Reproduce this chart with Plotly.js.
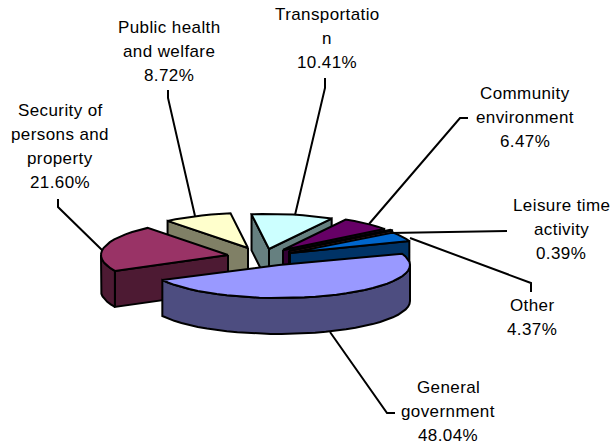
<!DOCTYPE html>
<html><head><meta charset="utf-8">
<script src="https://cdn.plot.ly/plotly-3.0.1.min.js"></script>
<style>html,body{margin:0;padding:0;background:#fff}
.annotation-text{letter-spacing:.4px}</style></head>
<body><div id="chart" style="width:611px;height:445px"></div>
<script>
// data (slices run clockwise starting at General government)
var categories = ["General government","Security of persons and property","Public health and welfare","Transportation","Community environment","Leisure time activity","Other"];
var shares = [48.04,21.60,8.72,10.41,6.47,0.39,4.37];
var shareLabels = ["48.04%","21.60%","8.72%","10.41%","6.47%","0.39%","4.37%"];
var labelLines = [["General","government"],["Security of","persons and","property"],["Public health","and welfare"],["Transportatio","n"],["Community","environment"],["Leisure time","activity"],["Other"]];

// presentation
var topColors  = ["#9999ff","#993366","#ffffcc","#ccffff","#660066","#ff8080","#0066cc"];
var sideColors = ["#4d4d80","#4d1a33","#808066","#668080","#330033","#804040","#003366"];
var hubs = [[279,265],[228,255],[248,248],[269,249],[283,250],[289,251],[290,253]];
var radii = [[131,33],[127,35],[127,35],[127,35],[127,35],[127,35],[127,35]];
var labelAnchors = [[448,387],[60,110],[169,27],[327,14],[525,93],[561,205],[532,305]];
var leaders = [
 [[395,413],[387,413],[330,332]],
 [[58,199],[58,207],[102,250]],
 [[168,90],[168,98],[195,216]],
 [[325,78],[325,88],[295,215]],
 [[468,118],[460,118],[369,224]],
 [[507,231],[390,233]],
 [[531,292],[531,283],[410,238]]
];
var paintOrder = [2,3,4,5,6,1,0];
var startAngle = -20, depth = 36, lineH = 24;

var total = shares.reduce(function(a,b){return a+b;},0);
var spans = [], acc = startAngle;
shares.forEach(function(v){ var s = acc, e = acc + v/total*360; spans.push([s,e]); acc = e; });

function pt(h,R,deg,dz){ var r = deg*Math.PI/180; return [h[0]+R[0]*Math.cos(r), h[1]+R[1]*Math.sin(r)+(dz||0)]; }
function arc(h,R,a,b,dz){ var n = Math.max(1,Math.ceil((b-a)/5)), out = []; for(var i=0;i<=n;i++) out.push(pt(h,R,a+(b-a)*i/n,dz)); return out; }
function poly(points,color){
  var xs = points.map(function(p){return p[0];}), ys = points.map(function(p){return p[1];});
  xs.push(xs[0]); ys.push(ys[0]);
  return {type:"scatter",mode:"lines",x:xs,y:ys,fill:"toself",fillcolor:color,line:{color:"#000",width:2,shape:"linear"},hoverinfo:"skip",showlegend:false};
}
function radialFace(h,R,t,color){
  var p = pt(h,R,t);
  return poly([h,p,[p[0],p[1]+depth],[h[0],h[1]+depth]],color);
}
var traces = [];
paintOrder.forEach(function(i){
  var h = hubs[i], R = radii[i], a = spans[i][0], b = spans[i][1];
  if (Math.cos(a*Math.PI/180) < 0) traces.push(radialFace(h,R,a,sideColors[i]));
  if (Math.cos(b*Math.PI/180) > 0) traces.push(radialFace(h,R,b,sideColors[i]));
  var fa = Math.max(a,0), fb = Math.min(b,180);
  if (fb > fa) {
    traces.push(poly(arc(h,R,fa,fb).concat(arc(h,R,fa,fb,depth).reverse()),sideColors[i]));
  }
  traces.push(poly([h].concat(arc(h,R,a,b)),topColors[i]));
});
leaders.forEach(function(l){
  traces.push({type:"scatter",mode:"lines",x:l.map(function(p){return p[0];}),y:l.map(function(p){return p[1];}),line:{color:"#000",width:2},hoverinfo:"skip",showlegend:false});
});
var annotations = [];
categories.forEach(function(c,i){
  labelLines[i].concat([shareLabels[i]]).forEach(function(t,k){
    annotations.push({x:labelAnchors[i][0],y:labelAnchors[i][1]+k*lineH,xref:"x",yref:"y",text:t,showarrow:false,xanchor:"center",yanchor:"middle",font:{family:"Liberation Sans, Arial, sans-serif",size:17,color:"#000"}});
  });
});
Plotly.newPlot("chart",traces,{
  width:611,height:445,margin:{l:0,r:0,t:0,b:0},paper_bgcolor:"#fff",plot_bgcolor:"#fff",showlegend:false,
  xaxis:{range:[0,611],visible:false,fixedrange:true},
  yaxis:{range:[445,0],visible:false,fixedrange:true},
  annotations:annotations
},{displayModeBar:false,staticPlot:true});
</script></body></html>
